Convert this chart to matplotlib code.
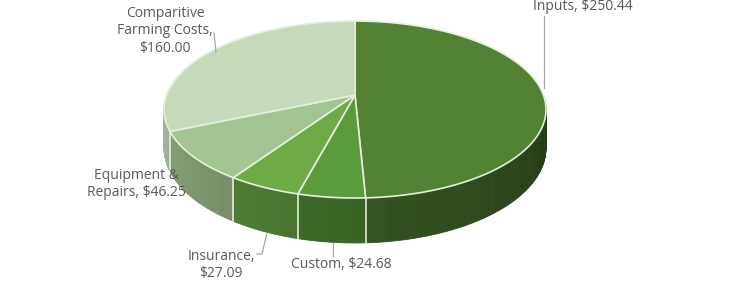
import numpy as np
import matplotlib.pyplot as plt
from matplotlib.patches import Polygon
from matplotlib.colors import to_rgb

# slice data, clockwise from 12 o'clock
names = ["Inputs", "Custom", "Insurance", "Equipment &\nRepairs", "Comparitive\nFarming Costs"]
values = [250.44, 24.68, 27.09, 46.25, 160.00]
top_colors = ["#548235", "#5b9b3b", "#6cab45", "#a3c591", "#c6dab9"]

# projected pie geometry (pixels)
cx, cy = 355, 95
A, B, K, H = 188.4, 86.1, 0.164, 37.6


def proj(th_deg, drop=0.0):
    t = np.radians(th_deg)
    s = 1.0 / (1.0 + K * np.sin(t))
    x = cx + A * np.cos(t) * s
    y = cy - B * np.sin(t) * s + drop * H * s
    return x, y


def shade(th_deg):
    th = ((th_deg + 180) % 360) - 180
    return 0.86 + (th + 180) / 180 * (0.42 - 0.86)


fig = plt.figure(figsize=(7.38, 2.84), dpi=100)
ax = fig.add_axes([0, 0, 1, 1])
ax.set_xlim(0, 738)
ax.set_ylim(284, 0)
ax.axis("off")

total = sum(values)
bounds = [90.0]
for v in values:
    bounds.append(bounds[-1] - v / total * 360)

edge = "#e4f0dc"

# side strips (front half only)
strips = []
for i, (v, col) in enumerate(zip(values, top_colors)):
    a0, a1 = bounds[i], bounds[i + 1]
    ths = np.linspace(a0, a1, max(int(abs(a0 - a1)), 2) + 1)
    for t1, t2 in zip(ths[:-1], ths[1:]):
        tm = 0.5 * (t1 + t2)
        if np.sin(np.radians(tm)) >= 0:
            continue
        strips.append((np.sin(np.radians(tm)), t1, t2, col))
strips.sort(key=lambda s: -s[0])
for _, t1, t2, col in strips:
    tm = 0.5 * (t1 + t2)
    c = np.array(to_rgb(col)) * shade(tm)
    pts = [proj(t1), proj(t2), proj(t2, 1), proj(t1, 1)]
    ax.add_patch(Polygon(pts, closed=True, facecolor=c, edgecolor=c, lw=0.6))

# slice boundaries on the side
for b in bounds:
    if np.sin(np.radians(b)) < -K:
        x0, y0 = proj(b)
        x1, y1 = proj(b, 1)
        ax.plot([x0, x1], [y0, y1], color=edge, lw=1.2)

# top faces
for i, col in enumerate(top_colors):
    a0, a1 = bounds[i], bounds[i + 1]
    ths = np.linspace(a0, a1, 200)
    pts = [(cx, cy)] + [proj(t) for t in ths]
    ax.add_patch(Polygon(pts, closed=True, facecolor=col, edgecolor=edge, lw=1.2,
                         joinstyle="round"))

# labels
font = dict(family="Open Sans", fontsize=10, color="#595959")
lead = dict(color="#a6a6a6", lw=0.9)

ax.text(533, 6, f"{names[0]}, ${values[0]:.2f}", ha="left", va="center", **font)
ax.plot([544, 544], [16, 88], **lead)

ax.text(165, 31, f"{names[4]},\n${values[4]:.2f}", ha="center", va="center",
        linespacing=1.2, **font)
ax.plot([214, 216], [33, 52], **lead)

eq1, eq2 = names[3].split("\n")
ax.text(136, 184, f"{eq1}\n{eq2}, ${values[3]:.2f}", ha="center", va="center",
        linespacing=1.25, **font)

ax.text(221, 265, f"{names[2]},\n${values[2]:.2f}", ha="center", va="center",
        linespacing=1.15, **font)
ax.plot([257, 262, 267], [254, 254, 233], **lead)

ax.text(341, 265, f"{names[1]}, ${values[1]:.2f}", ha="center", va="center", **font)
ax.plot([333, 333], [243, 256], **lead)

fig.savefig("out.png", dpi=100, facecolor="white")
